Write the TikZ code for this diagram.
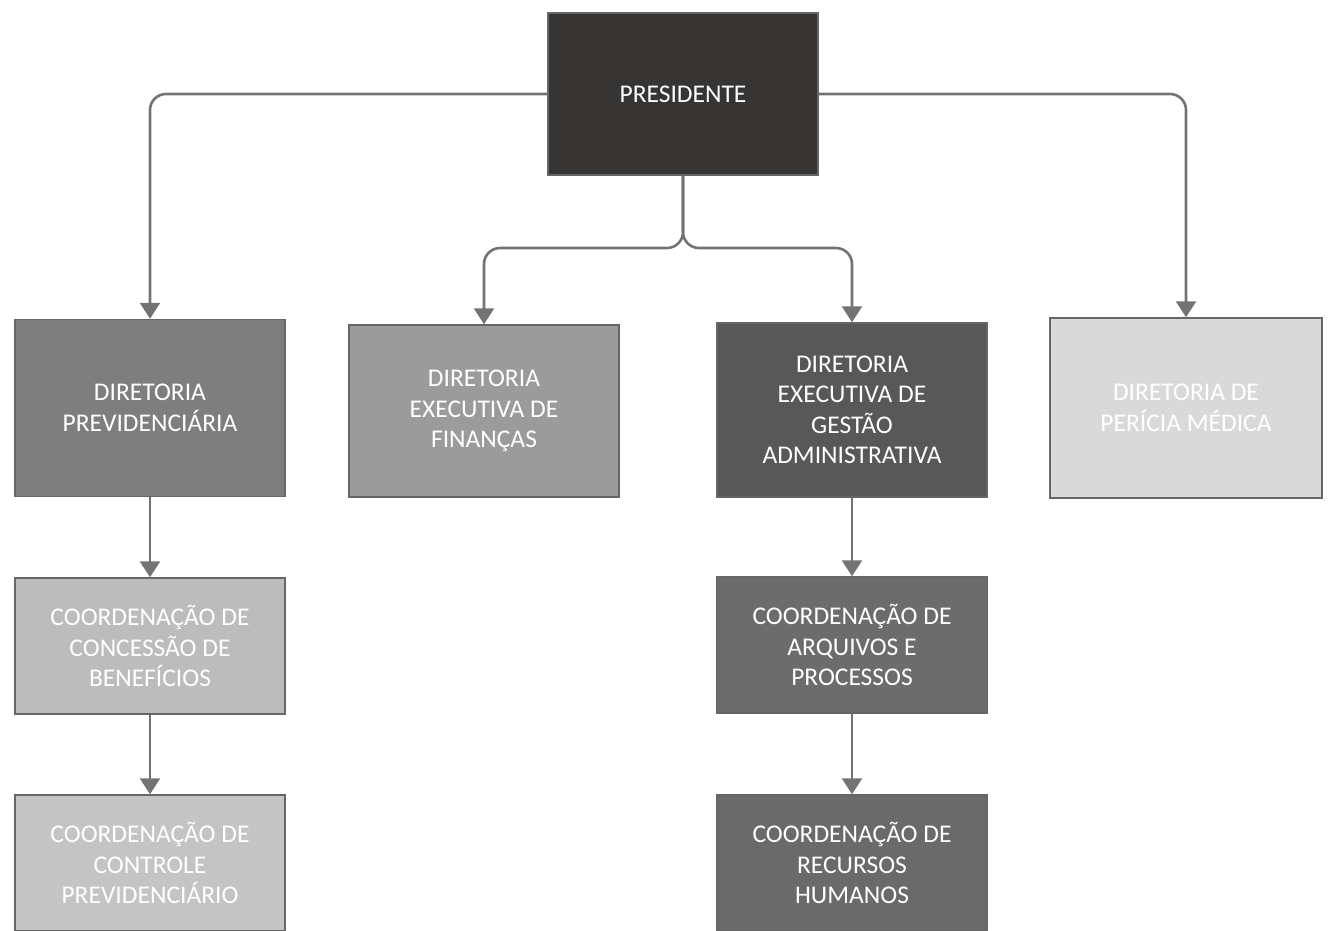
\documentclass[tikz,border=0pt]{standalone}
\usepackage{fontspec}
\setmainfont{Carlito}
\usetikzlibrary{arrows.meta}
\definecolor{presfill}{HTML}{373434}
\definecolor{prevfill}{HTML}{7E7E7E}
\definecolor{finfill}{HTML}{9B9B9B}
\definecolor{gestfill}{HTML}{585858}
\definecolor{perfill}{HTML}{D9D9D9}
\definecolor{concfill}{HTML}{BCBCBC}
\definecolor{ctrlfill}{HTML}{C4C4C4}
\definecolor{arqfill}{HTML}{6C6C6C}
\definecolor{rhfill}{HTML}{6A6A6A}
\begin{document}
\begin{tikzpicture}[x=1pt, y=-1pt,
	box/.style={draw=black!60, line width=1.5pt, align=center, text=white, inner sep=0pt,
		minimum width=270pt, font=\fontsize{25.5}{30.5}\selectfont},
	conn/.style={draw=black!55, line width=2.6pt, rounded corners=16pt,
		-{Triangle[width=20pt,length=16pt]}}]
	\useasboundingbox (0,0) rectangle (1329,930);
	% top
	\node[box, fill=presfill, minimum height=162pt] (pres) at (683,94) {PRESIDENTE};
	% diretorias
	\node[box, fill=prevfill, minimum height=177pt] (dprev) at (150,408) {DIRETORIA\\PREVIDENCIÁRIA};
	\node[box, fill=finfill, minimum height=172pt] (dfin) at (484,411) {DIRETORIA\\EXECUTIVA DE\\FINANÇAS};
	\node[box, fill=gestfill, minimum height=174pt] (dgest) at (852,410) {DIRETORIA\\EXECUTIVA DE\\GESTÃO\\ADMINISTRATIVA};
	\node[box, fill=perfill, minimum height=180pt, minimum width=272pt] (dper) at (1186,408) {DIRETORIA DE\\PERÍCIA MÉDICA};
	% coordenacoes
	\node[box, fill=concfill, minimum height=136pt] (cconc) at (150,646) {COORDENAÇÃO DE\\CONCESSÃO DE\\BENEFÍCIOS};
	\node[box, fill=ctrlfill, minimum height=136pt] (cctrl) at (150,863) {COORDENAÇÃO DE\\CONTROLE\\PREVIDENCIÁRIO};
	\node[box, fill=arqfill, minimum height=136pt] (carq) at (852,645) {COORDENAÇÃO DE\\ARQUIVOS E\\PROCESSOS};
	\node[box, fill=rhfill, minimum height=136pt] (crh) at (852,863) {COORDENAÇÃO DE\\RECURSOS\\HUMANOS};
	\coordinate (split) at (683,248);
	% connectors
	\draw[conn] (pres.west) -| (dprev.north);
	\draw[conn] (pres.east) -| (dper.north);
	\draw[conn] (pres.south) -- (split) -| (dfin.north);
	\draw[conn] (pres.south) -- (split) -| (dgest.north);
	\draw[conn] (dprev) -- (cconc);
	\draw[conn] (cconc) -- (cctrl);
	\draw[conn] (dgest) -- (carq);
	\draw[conn] (carq) -- (crh);
\end{tikzpicture}
\end{document}
